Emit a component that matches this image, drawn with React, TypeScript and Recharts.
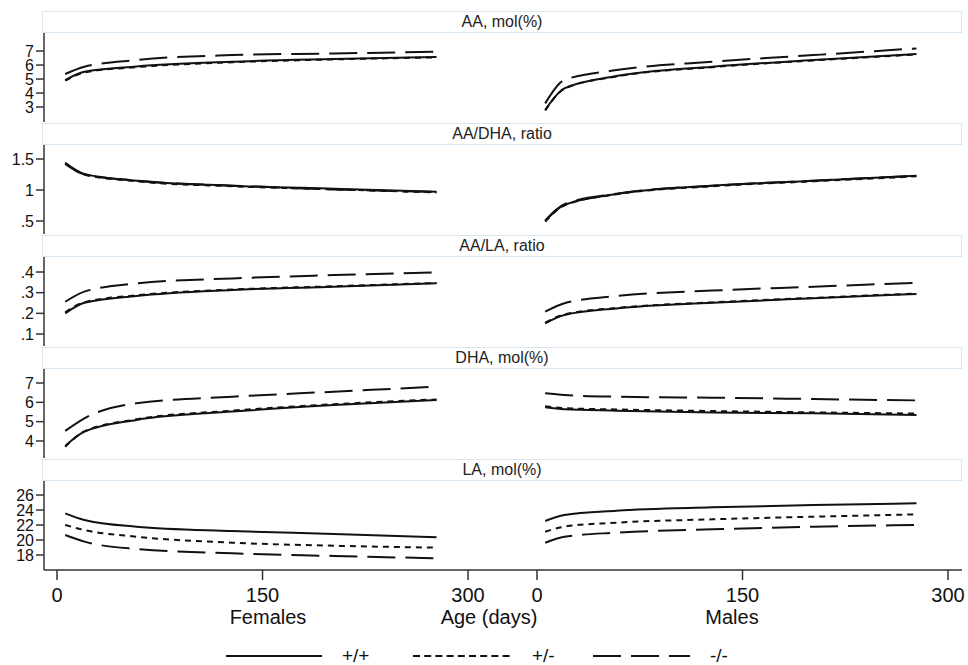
import { LineChart, Line, XAxis, YAxis } from "recharts"

// ages (days) at which the fitted curves were read
const ages = [6, 20, 58, 128, 202, 277]
const genotypes = ["+/+", "+/-", "-/-"]
const xTicks = [0, 150, 300]

// each array: [+/+, +/-, -/-]
const aaFemale = [
  [4.93, 5.52, 5.9, 6.24, 6.43, 6.58],
  [4.88, 5.47, 5.85, 6.2, 6.4, 6.55],
  [5.36, 5.88, 6.36, 6.71, 6.83, 6.95],
]
const aaMale = [
  [2.79, 4.33, 5.21, 5.88, 6.36, 6.79],
  [2.75, 4.3, 5.18, 5.85, 6.33, 6.75],
  [3.26, 4.93, 5.64, 6.24, 6.71, 7.19],
]
const aaDhaFemale = [
  [1.44, 1.26, 1.15, 1.07, 1.02, 0.97],
  [1.43, 1.25, 1.14, 1.06, 1.01, 0.96],
  [1.42, 1.25, 1.15, 1.07, 1.01, 0.97],
]
const aaDhaMale = [
  [0.5, 0.76, 0.935, 1.07, 1.15, 1.23],
  [0.49, 0.75, 0.93, 1.06, 1.14, 1.22],
  [0.51, 0.77, 0.94, 1.07, 1.15, 1.23],
]
const aaLaFemale = [
  [0.2, 0.251, 0.284, 0.313, 0.329, 0.345],
  [0.205, 0.254, 0.287, 0.315, 0.331, 0.347],
  [0.256, 0.305, 0.345, 0.369, 0.385, 0.398],
]
const aaLaMale = [
  [0.152, 0.192, 0.224, 0.251, 0.273, 0.294],
  [0.155, 0.195, 0.226, 0.253, 0.275, 0.296],
  [0.208, 0.249, 0.284, 0.31, 0.329, 0.348],
]
const dhaFemale = [
  [3.74, 4.48, 5.09, 5.52, 5.86, 6.12],
  [3.7, 4.5, 5.12, 5.57, 5.9, 6.15],
  [4.52, 5.17, 5.95, 6.29, 6.55, 6.81],
]
const dhaMale = [
  [5.74, 5.64, 5.57, 5.48, 5.43, 5.34],
  [5.8, 5.7, 5.63, 5.55, 5.48, 5.42],
  [6.47, 6.38, 6.29, 6.24, 6.17, 6.1],
]
const laFemale = [
  [23.56, 22.67, 21.78, 21.2, 20.8, 20.36],
  [22.0, 21.33, 20.44, 19.64, 19.24, 18.98],
  [20.67, 19.78, 18.8, 18.22, 17.87, 17.56],
]
const laMale = [
  [22.53, 23.33, 23.91, 24.36, 24.67, 24.89],
  [21.11, 21.78, 22.31, 22.76, 23.11, 23.42],
  [19.64, 20.44, 20.98, 21.42, 21.78, 22.0],
]

const panels = [
  { title: "AA, mol(%)", female: aaFemale, male: aaMale, domain: [1.93, 8.29], ticks: [3, 4, 5, 6, 7] },
  { title: "AA/DHA, ratio", female: aaDhaFemale, male: aaDhaMale, domain: [0.29, 1.726], ticks: [0.5, 1, 1.5] },
  { title: "AA/LA, ratio", female: aaLaFemale, male: aaLaMale, domain: [0.042, 0.4726], ticks: [0.1, 0.2, 0.3, 0.4] },
  { title: "DHA, mol(%)", female: dhaFemale, male: dhaMale, domain: [3.12, 7.724], ticks: [4, 5, 6, 7] },
  { title: "LA, mol(%)", female: laFemale, male: laMale, domain: [16, 27.87], ticks: [18, 20, 22, 24, 26] },
]

const dashes = ["", "6 5", "28 10"]
const FONT = '"Liberation Sans", Arial, Helvetica, sans-serif'
const INK = "#111"
const AXIS = "#333"

const ROW_TOP = 11
const ROW_STEP = 112
const HEADER_H = 22
const PLOT_H = 89
const XAXIS_H = 60
const FEMALE_W = 503
const MALE_W = 459
const MALE_PAD = 14

function toRows(series: number[][]) {
  return ages.map((age, i) => ({ age, g0: series[0][i], g1: series[1][i], g2: series[2][i] }))
}

const fmt = (v: number) => String(v).replace(/^0\./, ".")

function Panel({ series, domain, ticks, female, bottom }: any) {
  const width = female ? FEMALE_W : MALE_W + MALE_PAD
  const xDomain = female ? [-9.49, 325.5] : [-24.8, 310.2]
  return (
    <LineChart
      width={width}
      height={PLOT_H + (bottom ? XAXIS_H : 0)}
      data={toRows(series)}
      margin={{ top: 0, right: female ? 0 : MALE_PAD, bottom: 0, left: 0 }}
    >
      <XAxis
        dataKey="age"
        type="number"
        domain={xDomain}
        allowDataOverflow
        ticks={xTicks}
        hide={!bottom}
        height={XAXIS_H}
        tickSize={10}
        tickMargin={8}
        axisLine={{ stroke: AXIS, strokeWidth: 1.5 }}
        tickLine={{ stroke: AXIS, strokeWidth: 1.5 }}
        tick={{ fontSize: 20, fill: INK, fontFamily: FONT }}
      />
      <YAxis
        type="number"
        domain={domain}
        allowDataOverflow
        ticks={ticks}
        hide={!female}
        width={44}
        tickSize={8}
        tickMargin={2}
        tickFormatter={fmt}
        interval={0}
        axisLine={{ stroke: AXIS, strokeWidth: 1.5 }}
        tickLine={{ stroke: AXIS, strokeWidth: 1.5 }}
        tick={{ fontSize: 16, fill: INK, fontFamily: FONT }}
      />
      {genotypes.map((g, i) => (
        <Line
          key={g}
          name={g}
          dataKey={"g" + i}
          type="monotone"
          stroke={INK}
          strokeWidth={2}
          strokeDasharray={dashes[i]}
          dot={false}
          isAnimationActive={false}
        />
      ))}
    </LineChart>
  )
}

export default function App() {
  const legendItems = [
    { x1: 226, x2: 322, tx: 342 },
    { x1: 413, x2: 513, tx: 532 },
    { x1: 593, x2: 690, tx: 710 },
  ]
  return (
    <div
      style={{
        position: "absolute",
        left: 0,
        top: 0,
        width: 968,
        height: 665,
        background: "#fff",
        fontFamily: FONT,
        overflow: "hidden",
      }}
    >
      {panels.map((p, r) => {
        const top = ROW_TOP + r * ROW_STEP
        const bottom = r === panels.length - 1
        return (
          <div key={p.title}>
            <div
              style={{
                position: "absolute",
                left: 42,
                top,
                width: 920,
                height: HEADER_H,
                boxSizing: "border-box",
                border: "1.5px solid #d6e7f1",
                display: "flex",
                alignItems: "center",
                justifyContent: "center",
                fontSize: 16,
                color: "#222",
              }}
            >
              {p.title}
            </div>
            <div style={{ position: "absolute", left: 0, top: top + HEADER_H }}>
              <Panel series={p.female} domain={p.domain} ticks={p.ticks} female bottom={bottom} />
            </div>
            <div style={{ position: "absolute", left: FEMALE_W, top: top + HEADER_H }}>
              <Panel series={p.male} domain={p.domain} ticks={p.ticks} female={false} bottom={bottom} />
            </div>
          </div>
        )
      })}
      <svg
        width={968}
        height={665}
        style={{ position: "absolute", left: 0, top: 0, pointerEvents: "none" }}
        fontFamily={FONT}
      >
        <text x={268} y={624} textAnchor="middle" fontSize={20} fill={INK}>Females</text>
        <text x={489} y={624} textAnchor="middle" fontSize={20} fill={INK}>Age (days)</text>
        <text x={732} y={624} textAnchor="middle" fontSize={20} fill={INK}>Males</text>
        {genotypes.map((g, i) => (
          <g key={g}>
            <line
              x1={legendItems[i].x1}
              x2={legendItems[i].x2}
              y1={656}
              y2={656}
              stroke={INK}
              strokeWidth={2}
              strokeDasharray={i === 1 ? "7 4.2" : dashes[i]}
            />
            <text x={legendItems[i].tx} y={662} fontSize={19} fill={INK}>{g}</text>
          </g>
        ))}
      </svg>
    </div>
  )
}
